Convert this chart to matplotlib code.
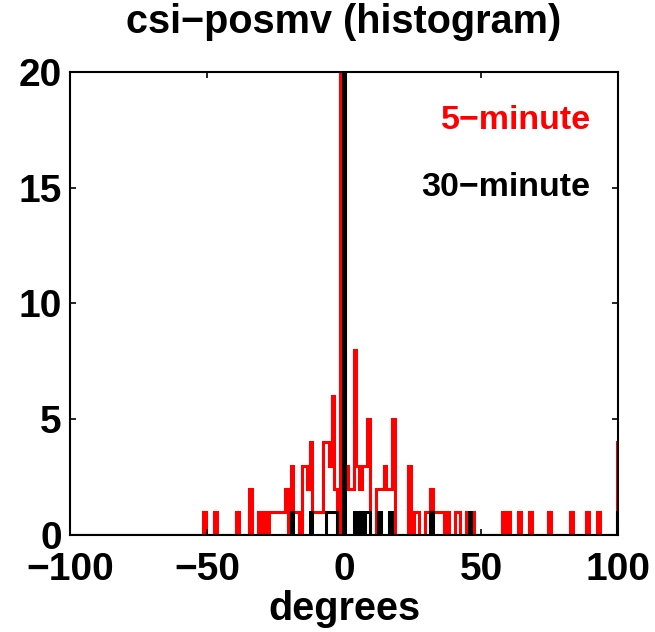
import numpy as np
import matplotlib
matplotlib.use("Agg")
import matplotlib.pyplot as plt

plt.rcParams["font.family"] = ["Liberation Sans", "DejaVu Sans"]
plt.rcParams["font.weight"] = "bold"

# bin centres (degrees) and counts, 1-degree bins, zero bins omitted
red_centers = [-51, -47, -39, -34, -31, -29, -27, -26, -25, -24, -23, -22, -21,
               -19, -18, -17, -15, -14, -13, -12, -11, -10, -9, -8, -7, -6, -5,
               -4, -3, -1, 0, 1, 2, 3, 4, 5, 6, 7, 8, 9, 12, 13, 14, 15, 16, 17, 18,
               24, 26, 27, 30, 31, 32, 33, 34, 35, 36, 38, 41, 42, 45, 46, 47,
               58, 60, 64, 68, 75, 83, 89, 93, 100]
red_counts = [1, 1, 1, 2, 1, 1, 1, 1, 1, 1, 1, 1, 2,
              3, 1, 1, 3, 3, 2, 4, 1, 1, 1, 1, 4, 4, 3,
              6, 2, 45, 60, 3, 2, 2, 8, 3, 2, 3, 3, 5, 2, 2, 2, 3, 2, 2, 5,
              3, 1, 1, 1, 1, 2, 1, 1, 1, 1, 1, 1, 1, 1, 1, 1,
              1, 1, 1, 1, 1, 1, 1, 1, 4]

black_centers = [-19, -12, -6, -5, -4, -3, 0, 4, 6, 8, 9, 13, 17, 32, 46, 100]
black_counts = [1, 1, 1, 1, 1, 1, 50, 1, 1, 1, 1, 1, 1, 1, 1, 1]

centers = np.arange(-100, 101)
edges = np.arange(-100.5, 101.5, 1.0)


def full_counts(c, n):
    out = np.zeros(len(centers))
    out[np.array(c) + 100] = n
    return out


red = full_counts(red_centers, red_counts)
black = full_counts(black_centers, black_counts)

fig = plt.figure(figsize=(6.55, 6.32), dpi=100)
ax = fig.add_axes([0.1069, 0.1535, 0.8366, 0.7326])

ax.stairs(red, edges, color="#ff0000", linewidth=2.2, baseline=0)
ax.stairs(black, edges, color="black", linewidth=2.2, baseline=0)

ax.set_xlim(-100, 100)
ax.set_ylim(0, 20)
ax.set_xticks([-100, -50, 0, 50, 100])
ax.set_yticks([0, 5, 10, 15, 20])
ax.tick_params(direction="in", length=4, width=1.2, top=True, right=True,
               labelsize=28, pad=6)
ax.tick_params(axis="x", pad=12)
for s in ax.spines.values():
    s.set_linewidth(1.5)

ax.text(90, 17.9, "5\u2212minute", color="#ff0000", fontsize=24.5,
        fontweight="bold", ha="right", va="center")
ax.text(90, 15.0, "30\u2212minute", color="black", fontsize=24.5,
        fontweight="bold", ha="right", va="center")

ax.set_title("csi\u2212posmv (histogram)", fontsize=28.5, fontweight="bold", pad=28)
ax.set_xlabel("degrees", fontsize=28.5, fontweight="bold", labelpad=2)

fig.savefig("out.png", dpi=100)
